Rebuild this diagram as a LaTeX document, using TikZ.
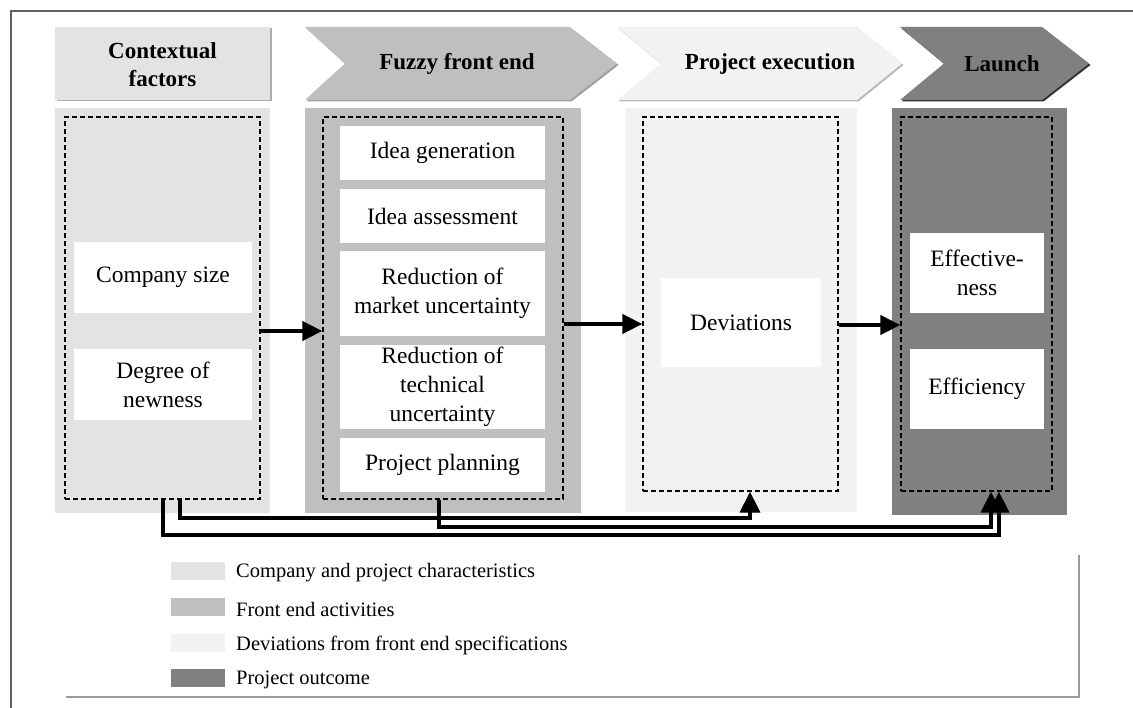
\documentclass[tikz,border=0pt]{standalone}
\usepackage{fontspec}
\setmainfont{Liberation Serif}
\usetikzlibrary{arrows.meta,fit,calc}
\definecolor{ctxc}{HTML}{E3E3E3}
\definecolor{ffec}{HTML}{BFBFBF}
\definecolor{pexc}{HTML}{F2F2F2}
\definecolor{lauc}{HTML}{808080}
\definecolor{framec}{HTML}{606060}
\definecolor{legc}{HTML}{9A9A9A}
\tikzset{
  bodyfont/.style={font=\fontsize{23.5}{29}\selectfont},
  hdrfont/.style={font=\fontsize{23}{28}\selectfont\bfseries},
  legfont/.style={font=\fontsize{20.5}{24}\selectfont},
  panel/.style={inner sep=0pt, draw=none},
  dbox/.style={inner sep=0pt, draw=black, dash pattern=on 5pt off 3pt, line width=1.3pt},
  wbox/.style={fill=white, draw=none, inner sep=0pt, align=center, bodyfont},
  arr/.style={line width=4pt, -{Triangle[width=19pt,length=20pt]}},
  conn/.style={line width=3.5pt, -{Triangle[width=20pt,length=21pt]},
    preaction={draw=gray!70, transform canvas={shift={(1.2pt,-1.2pt)}}}},
  swatch/.style={inner sep=0pt, minimum width=54pt, minimum height=18pt},
  legtext/.style={anchor=west, inner sep=0pt, legfont},
}
\begin{document}
\begin{tikzpicture}[x=1pt,y=-1pt]
\useasboundingbox (0,0) rectangle (1133,708);
% frame
\draw[line width=1.5pt, framec] (11,708) -- (11,11) -- (1133,11);
\draw[line width=2pt, legc] (66,697) -- (1079,697) -- (1079,555);

% headers (shadow + shape)
\fill[gray!65] (56.5,28.5) rectangle (271.5,101.5);
\fill[ctxc] (55,27) rectangle (270,100);
\node[hdrfont, align=center] (hctx) at (162.5,65) {Contextual\\factors};

\fill[gray!75] (306.5,28.5) -- (571.5,28.5) -- (618.5,65) -- (571.5,101.5) -- (306.5,101.5) -- (346.5,65) -- cycle;
\fill[ffec] (305,27) -- (570,27) -- (617,63.5) -- (570,100) -- (305,100) -- (345,63.5) -- cycle;
\node[hdrfont] (hffe) at (457,64) {Fuzzy front end};

\fill[gray!55] (618.5,28.5) -- (858.5,28.5) -- (903.5,65) -- (858.5,101.5) -- (618.5,101.5) -- (662.5,65) -- cycle;
\fill[pexc] (617,27) -- (857,27) -- (902,63.5) -- (857,100) -- (617,100) -- (661,63.5) -- cycle;
\node[hdrfont] (hpex) at (770,64) {Project execution};

\fill[gray!40!black] (901.5,28.5) -- (1043.5,28.5) -- (1090.5,65) -- (1043.5,101.5) -- (901.5,101.5) -- (945.5,65) -- cycle;
\fill[lauc] (900,27) -- (1042,27) -- (1089,63.5) -- (1042,100) -- (900,100) -- (944,63.5) -- cycle;
\node[hdrfont] (hlau) at (1002,64) {Launch};

% panels
\node[panel, fill=ctxc, fit={(55,108) (270,513)}] (ctxp) {};
\node[panel, fill=ffec, fit={(305,108) (581,513)}] (ffep) {};
\node[panel, fill=pexc, fit={(625,108) (857,512)}] (pexp) {};
\node[panel, fill=lauc, fit={(892,108) (1067,515)}] (laup) {};

% white boxes
\node[wbox, minimum width=178pt, minimum height=71pt] (cs) at (163,277.5) {Company size};
\node[wbox, minimum width=178pt, minimum height=71pt] (dn) at (163,384.5) {Degree of\\newness};
\node[wbox, minimum width=205pt, minimum height=54pt] (ig) at (442.5,153) {Idea generation};
\node[wbox, minimum width=205pt, minimum height=54pt] (ia) at (442.5,216) {Idea assessment};
\node[wbox, minimum width=205pt, minimum height=85pt] (rm) at (442.5,293.5) {Reduction of\\market uncertainty};
\node[wbox, minimum width=205pt, minimum height=84pt] (rt) at (442.5,387) {Reduction of\\technical\\uncertainty};
\node[wbox, minimum width=205pt, minimum height=54pt] (pp) at (442.5,465) {Project planning};
\node[wbox, minimum width=160pt, minimum height=89pt] (dv) at (741,322.5) {Deviations};
\node[wbox, minimum width=134pt, minimum height=80pt] (ef) at (977,273) {Effective-\\ness};
\node[wbox, minimum width=134pt, minimum height=80pt] (ec) at (977,389) {Efficiency};

% dashed frames
\node[dbox, fit={(65,117) (260,499)}] (ctxd) {};
\node[dbox, fit={(323,117) (563,499)}] (ffed) {};
\node[dbox, fit={(643,117) (838,491)}] (pexd) {};
\node[dbox, fit={(901,117) (1052,491)}] (laud) {};

% horizontal arrows
\draw[arr] (ctxd.east |- 0,331) -- (ffed.west |- 0,331);
\draw[arr] (ffed.east |- 0,324) -- (pexd.west |- 0,324);
\draw[arr] (pexd.east |- 0,325) -- (laud.west |- 0,325);

% bottom connectors
\draw[conn] (163,0 |- ctxd.south) -- (163,535) -- (999,535) -- (999,0 |- laud.south);
\draw[conn] (180,0 |- ctxd.south) -- (180,518) -- (750,518) -- (750,0 |- pexd.south);
\draw[conn] (439,0 |- ffed.south) -- (439,527) -- (991,527) -- (991,0 |- laud.south);

% legend
\node[swatch, fill=ctxc] (s1) at (198,571) {};
\node[swatch, fill=ffec] (s2) at (198,607) {};
\node[swatch, fill=pexc] (s3) at (198,643) {};
\node[swatch, fill=lauc] (s4) at (198,678) {};
\node[legtext] (l1) at (236,573) {Company and project characteristics};
\node[legtext] (l2) at (236,609) {Front end activities};
\node[legtext] (l3) at (236,645) {Deviations from front end specifications};
\node[legtext] (l4) at (236,680) {Project outcome};
\end{tikzpicture}
\end{document}
